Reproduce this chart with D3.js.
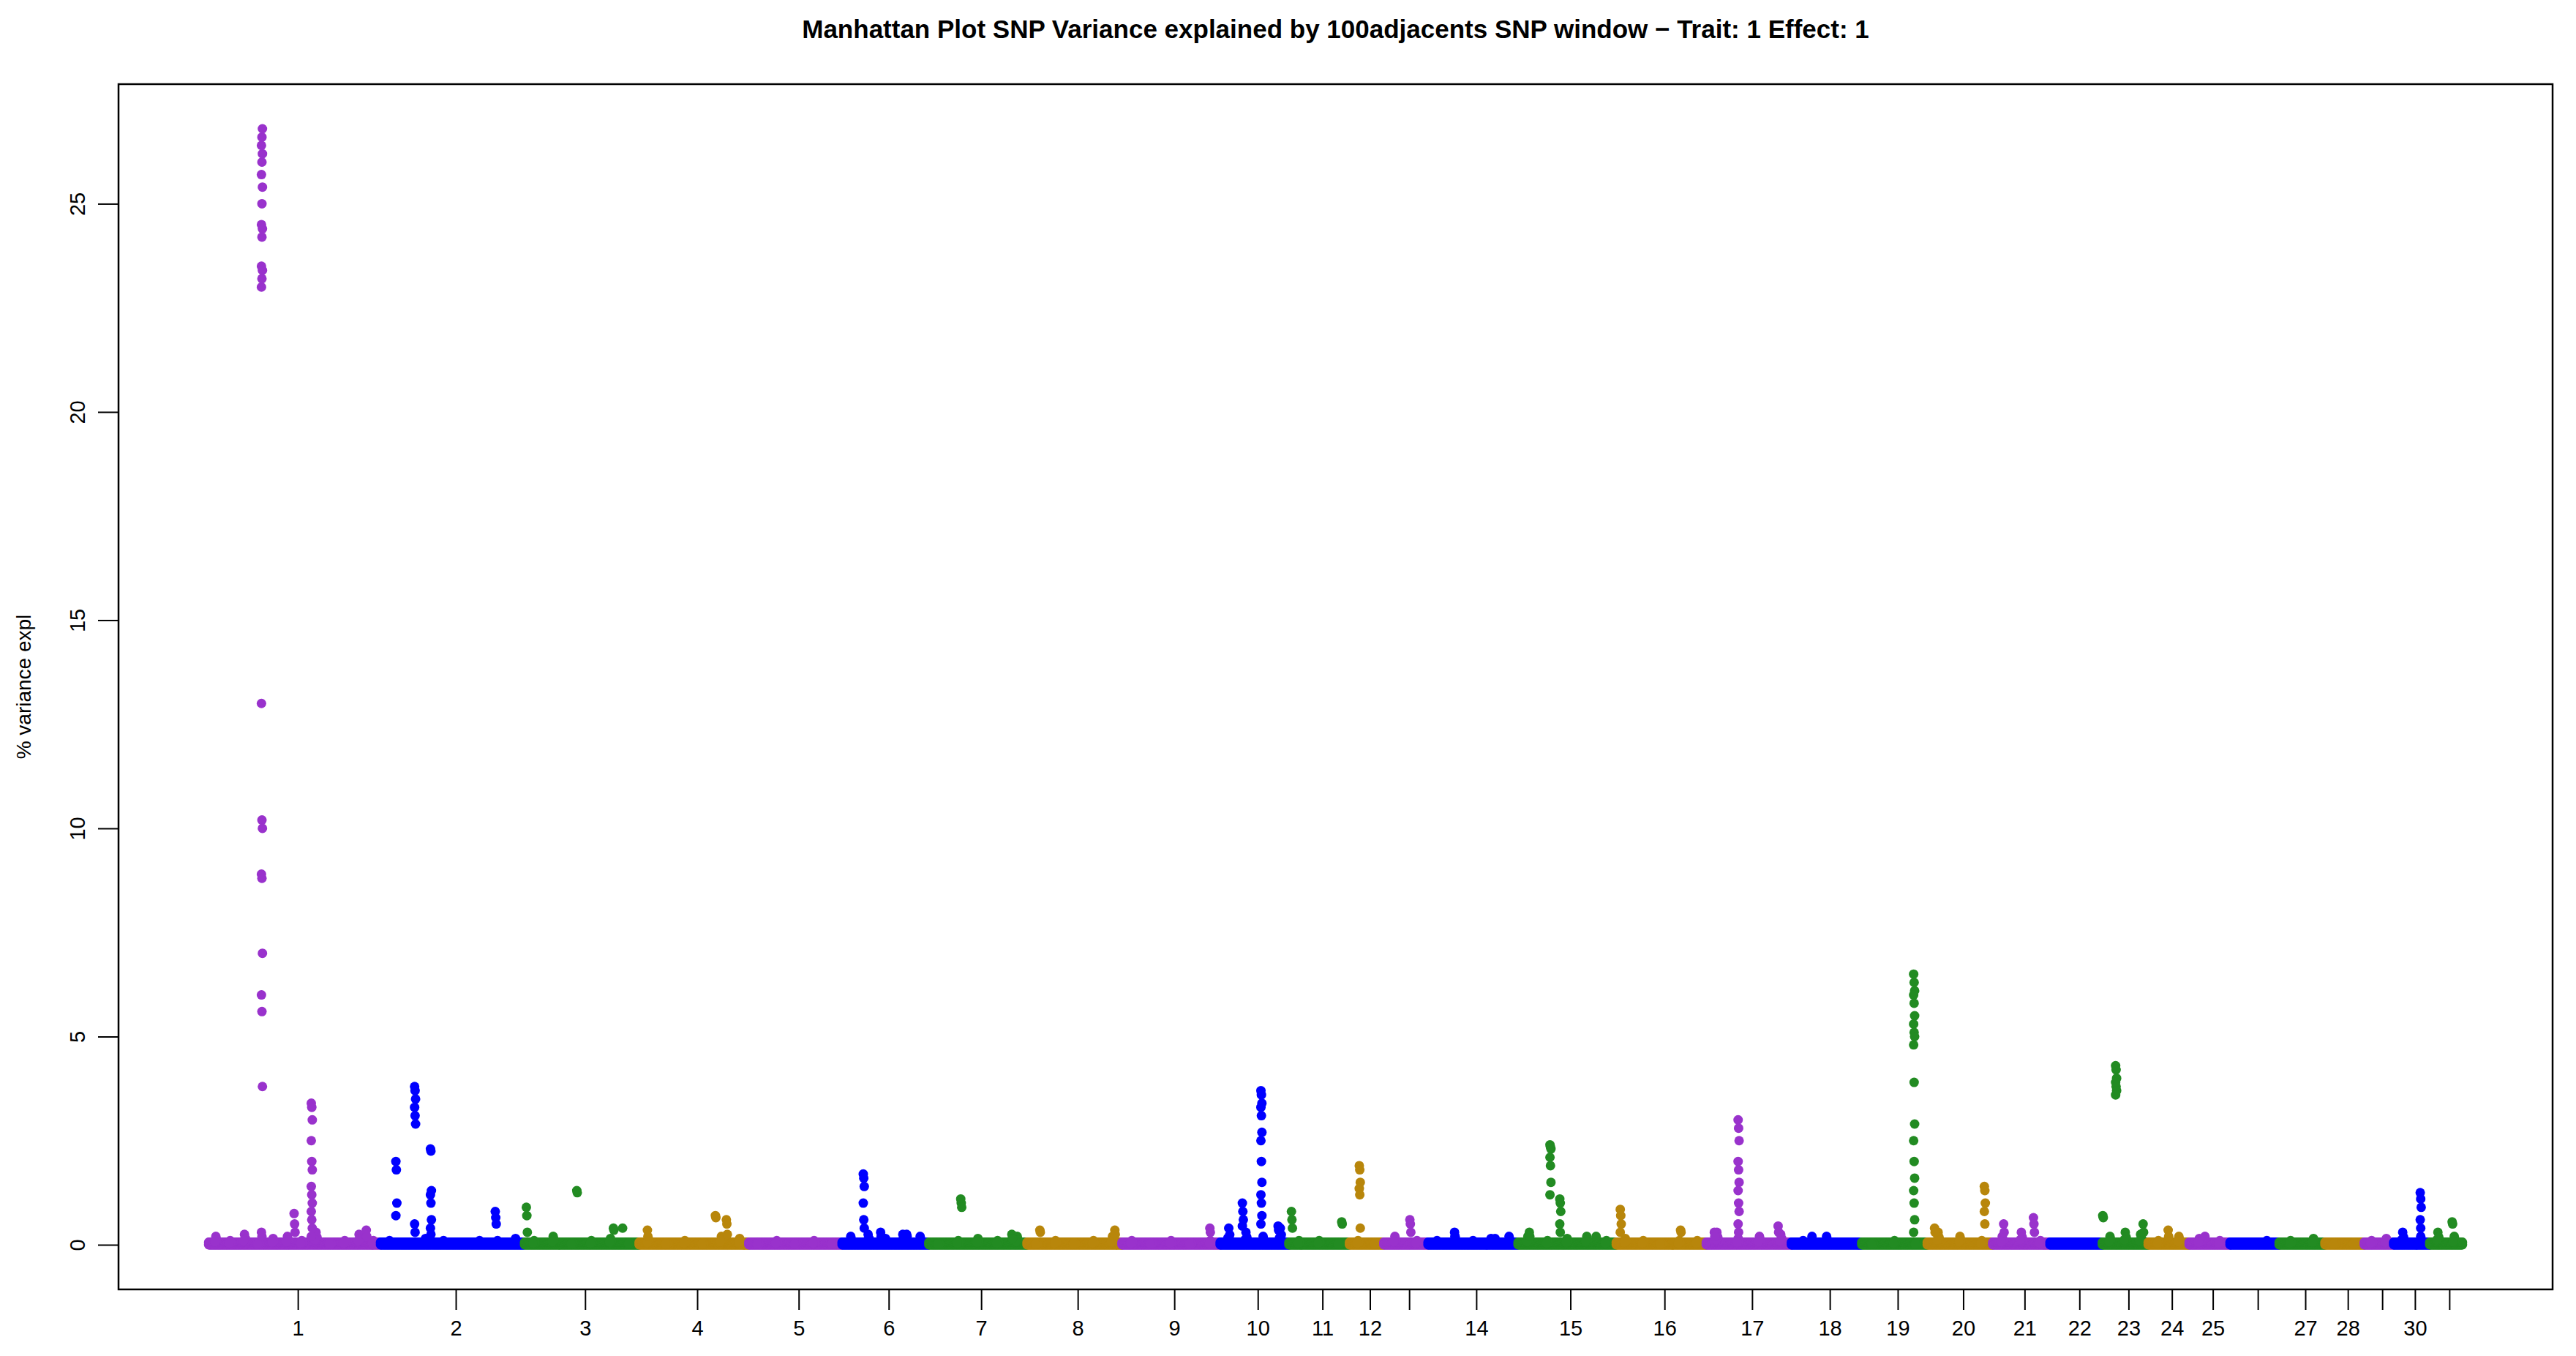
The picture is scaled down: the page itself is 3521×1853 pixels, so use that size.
<!DOCTYPE html>
<html>
<head>
<meta charset="utf-8">
<script src="https://cdn.jsdelivr.net/npm/d3@7"></script>
<style>
  body { margin: 0; background: #fff; }
  text { font-family: "Liberation Sans", Arial, sans-serif; }
</style>
</head>
<body>
<svg id="chart" width="3521" height="1853"></svg>
<script>
// chromosome lengths (relative units)
const chromLengths = [105, 88, 70, 67, 57, 53, 60, 58, 60, 42, 37, 21, 27, 55, 60, 55, 52, 43, 40, 40, 35, 32, 28, 25, 25, 30, 28, 24, 18, 22, 20];
const chromLabels = ["1","2","3","4","5","6","7","8","9","10","11","12","","14","15","16","17","18","19","20","21","22","23","24","25","","27","28","","30",""];
const palette = ["#9932CC", "#0000FF", "#228B22", "#B8860B"];

// peaks: [chromosome, relative position, values...]
const peaks = [
  [1, 0.31, 23.0, 23.2, 23.4, 23.5, 24.2, 24.4, 24.5, 25.0, 25.4, 25.7, 26.0, 26.2, 26.4, 26.6, 26.8, 13.0, 10.2, 10.0, 8.9, 8.8, 7.0, 6.0, 5.6, 3.8, 0.3, 0.2],
  [1, 0.50, 0.75, 0.5, 0.3],
  [1, 0.60, 3.4, 3.3, 3.0, 2.5, 2.0, 1.8, 1.4, 1.2, 1.0, 0.8, 0.6, 0.4, 0.2],
  [1, 0.92, 0.35, 0.2],
  [2, 0.11, 2.0, 1.8, 1.0, 0.7],
  [2, 0.24, 3.8, 3.7, 3.5, 3.3, 3.1, 2.9, 0.5, 0.3],
  [2, 0.35, 2.3, 2.25, 1.3, 1.2, 1.0, 0.6, 0.4, 0.25],
  [2, 0.80, 0.8, 0.65, 0.5],
  [3, 0.02, 0.9, 0.7, 0.3],
  [3, 0.46, 1.3, 1.25],
  [3, 0.78, 0.4, 0.35],
  [3, 0.86, 0.4],
  [4, 0.08, 0.35, 0.2],
  [4, 0.70, 0.7, 0.65],
  [4, 0.80, 0.6, 0.5, 0.25],
  [6, 0.25, 1.7, 1.6, 1.4, 1.0, 0.6, 0.4],
  [6, 0.45, 0.3, 0.2],
  [6, 0.75, 0.25, 0.2],
  [7, 0.33, 1.1, 1.0, 0.9],
  [7, 0.85, 0.25, 0.15],
  [8, 0.14, 0.35, 0.3],
  [8, 0.93, 0.35, 0.25],
  [9, 0.9, 0.4, 0.3],
  [10, 0.33, 1.0, 0.8, 0.6, 0.45],
  [10, 0.60, 3.7, 3.6, 3.4, 3.3, 3.1, 2.7, 2.5, 2.0, 1.5, 1.2, 1.0, 0.7, 0.5],
  [10, 0.85, 0.45, 0.35],
  [11, 0.05, 0.8, 0.6, 0.4],
  [11, 0.88, 0.55, 0.5],
  [12, 0.30, 1.9, 1.8, 1.5, 1.35, 1.2, 0.4],
  [13, 0.60, 0.6, 0.5, 0.3],
  [14, 0.30, 0.3, 0.2],
  [14, 0.75, 0.15],
  [15, 0.12, 0.3, 0.2],
  [15, 0.33, 2.4, 2.35, 2.3, 2.1, 1.9, 1.5, 1.2],
  [15, 0.43, 1.1, 1.0, 0.8, 0.5, 0.3],
  [15, 0.80, 0.2],
  [16, 0.05, 0.85, 0.7, 0.5, 0.3],
  [16, 0.72, 0.35, 0.3],
  [17, 0.10, 0.3, 0.2],
  [17, 0.38, 3.0, 2.8, 2.5, 2.0, 1.8, 1.5, 1.3, 1.0, 0.8, 0.5, 0.3],
  [17, 0.85, 0.45, 0.3],
  [18, 0.3, 0.2],
  [19, 0.80, 6.5, 6.3, 6.1, 6.0, 5.8, 5.5, 5.3, 5.1, 5.0, 4.8, 3.9, 2.9, 2.5, 2.0, 1.6, 1.3, 1.0, 0.6, 0.3],
  [20, 0.12, 0.4, 0.3],
  [20, 0.88, 1.4, 1.3, 1.0, 0.8, 0.5],
  [21, 0.20, 0.5, 0.3],
  [21, 0.72, 0.65, 0.5, 0.3],
  [23, 0.02, 0.7, 0.65],
  [23, 0.30, 4.3, 4.2, 4.0, 3.9, 3.8, 3.7, 3.6],
  [23, 0.90, 0.5, 0.3],
  [24, 0.5, 0.35, 0.2],
  [25, 0.4, 0.2],
  [30, 0.75, 1.25, 1.1, 0.9, 0.6, 0.4],
  [31, 0.70, 0.55, 0.5]
];

// low background noise per chromosome (values at even spacing)
const noise = [
  [0.2, 0.1, 0.25, 0.05, 0.15, 0.2, 0.1, 0.3, 0.05, 0.1, 0.25, 0.1],
  [0.1, 0.05, 0.15, 0.1, 0.05, 0.1, 0.1, 0.15],
  [0.1, 0.2, 0.05, 0.1, 0.15, 0.05],
  [0.15, 0.05, 0.1, 0.05, 0.2, 0.15],
  [0.05, 0.1, 0.05, 0.1, 0.05],
  [0.2, 0.25, 0.15, 0.25, 0.2],
  [0.05, 0.1, 0.15, 0.1, 0.2],
  [0.05, 0.1, 0.05, 0.1, 0.2],
  [0.1, 0.05, 0.1, 0.05, 0.1],
  [0.4, 0.3, 0.2, 0.4],
  [0.1, 0.1, 0.05],
  [0.1, 0.05],
  [0.2, 0.1],
  [0.1, 0.2, 0.1, 0.15, 0.2],
  [0.2, 0.1, 0.15, 0.2, 0.1],
  [0.15, 0.1, 0.05, 0.1, 0.1],
  [0.3, 0.15, 0.2, 0.25],
  [0.1, 0.2, 0.05],
  [0.05, 0.1, 0.05],
  [0.3, 0.2, 0.1],
  [0.2, 0.3, 0.1],
  [0.05, 0.05],
  [0.2, 0.3, 0.25],
  [0.1, 0.2],
  [0.15, 0.1],
  [0.05, 0.1],
  [0.1, 0.15],
  [0.05, 0.05],
  [0.1, 0.15],
  [0.3, 0.2],
  [0.3, 0.2]
];
const baseLevels = [0.0, 0.06];

const svg = d3.select("#chart");
const mLeft = 162, mRight = 3489, mTop = 115, mBottom = 1762;

// cumulative offsets
const starts = [];
let acc = 0;
chromLengths.forEach(l => { starts.push(acc); acc += l; });
const total = acc;
const pad = total * 0.04;

const x = d3.scaleLinear().domain([-pad, total + pad]).range([mLeft, mRight]);
const yMax = 26.8;
const y = d3.scaleLinear().domain([-yMax * 0.04, yMax * 1.04]).range([mBottom, mTop]);

// build point list
const points = [];
chromLengths.forEach((len, i) => {
  baseLevels.forEach(b => {
    for (let p = 0; p <= len; p += 0.4) points.push({ c: i, pos: starts[i] + p, v: b });
  });
  const n = noise[i];
  n.forEach((v, j) => {
    const pos = starts[i] + len * (j + 0.5) / n.length;
    points.push({ c: i, pos: pos, v: v });
    points.push({ c: i, pos: pos + 0.6, v: v * 0.6 });
    points.push({ c: i, pos: pos - 0.6, v: v * 0.4 });
  });
});
peaks.forEach(pk => {
  const i = pk[0] - 1;
  pk.slice(2).forEach((v, j) => {
    points.push({ c: i, pos: starts[i] + chromLengths[i] * pk[1] + (j % 3 - 1) * 0.3, v: v });
  });
});

svg.append("g").selectAll("circle")
  .data(points)
  .join("circle")
  .attr("cx", d => x(d.pos))
  .attr("cy", d => y(d.v))
  .attr("r", 6.5)
  .attr("fill", d => palette[d.c % 4]);

// frame
svg.append("rect")
  .attr("x", mLeft).attr("y", mTop)
  .attr("width", mRight - mLeft).attr("height", mBottom - mTop)
  .attr("fill", "none").attr("stroke", "#000").attr("stroke-width", 2.5);

// x axis
const xTicks = chromLengths.map((l, i) => starts[i] + l / 2 + 2);
const xAxis = d3.axisBottom(x).tickValues(xTicks).tickSize(28).tickPadding(14)
  .tickFormat((d, i) => chromLabels[i]);
const gx = svg.append("g").attr("transform", `translate(0,${mBottom})`).call(xAxis);
gx.select(".domain").remove();
gx.selectAll("line").attr("stroke-width", 2);
gx.selectAll("text").attr("font-size", 29).attr("fill", "#000");

// y axis
const yAxis = d3.axisLeft(y).tickValues([0, 5, 10, 15, 20, 25]).tickSize(28);
const gy = svg.append("g").attr("transform", `translate(${mLeft},0)`).call(yAxis);
gy.select(".domain").remove();
gy.selectAll("line").attr("stroke-width", 2);
gy.selectAll("text")
  .attr("font-size", 29).attr("fill", "#000")
  .attr("x", 0).attr("y", 0).attr("dy", 0)
  .attr("text-anchor", "middle")
  .attr("transform", "translate(-46,0) rotate(-90)");

svg.append("text")
  .attr("transform", `translate(42,${(mTop + mBottom) / 2}) rotate(-90)`)
  .attr("text-anchor", "middle")
  .attr("font-size", 28)
  .text("% variance expl");

svg.append("text")
  .attr("x", (mLeft + mRight) / 2).attr("y", 52)
  .attr("text-anchor", "middle")
  .attr("font-size", 35).attr("font-weight", "bold")
  .text("Manhattan Plot SNP Variance explained by 100adjacents SNP window \u2212 Trait: 1 Effect: 1");
</script>
</body>
</html>
